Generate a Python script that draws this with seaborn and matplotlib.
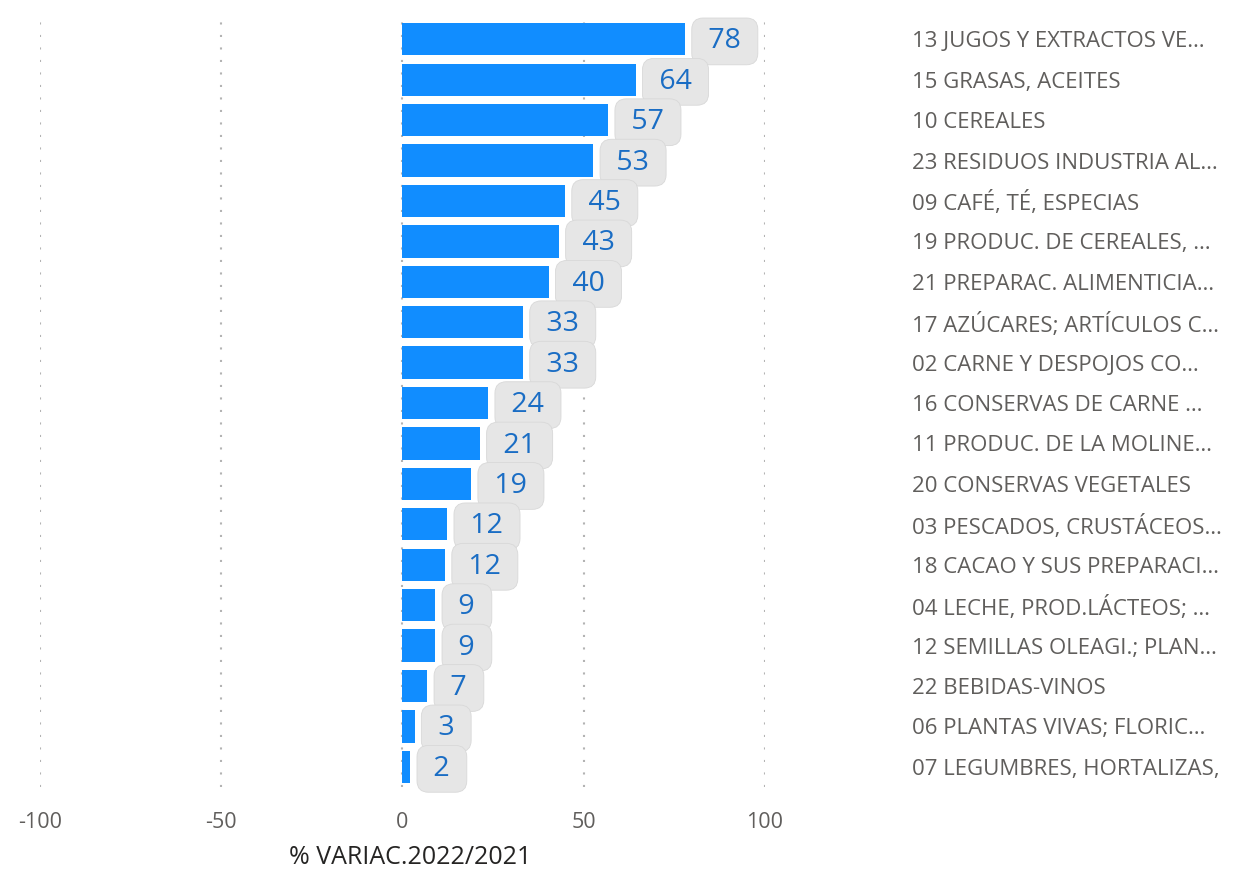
import pandas as pd
import matplotlib.pyplot as plt
import seaborn as sns

categorias = [
    "13 JUGOS Y EXTRACTOS VE…",
    "15 GRASAS, ACEITES",
    "10 CEREALES",
    "23 RESIDUOS INDUSTRIA AL…",
    "09 CAFÉ, TÉ, ESPECIAS",
    "19 PRODUC. DE CEREALES, …",
    "21 PREPARAC. ALIMENTICIA…",
    "17 AZÚCARES; ARTÍCULOS C…",
    "02 CARNE Y DESPOJOS CO…",
    "16 CONSERVAS DE CARNE …",
    "11 PRODUC. DE LA MOLINE…",
    "20 CONSERVAS VEGETALES",
    "03 PESCADOS, CRUSTÁCEOS…",
    "18 CACAO Y SUS PREPARACI…",
    "04 LECHE, PROD.LÁCTEOS; …",
    "12 SEMILLAS OLEAGI.; PLAN…",
    "22 BEBIDAS-VINOS",
    "06 PLANTAS VIVAS; FLORIC…",
    "07 LEGUMBRES, HORTALIZAS,",
]
variacion = [78.0, 64.4, 56.8, 52.7, 44.9, 43.2, 40.4, 33.3, 33.3, 23.7,
             21.4, 19.0, 12.4, 11.8, 9.1, 9.1, 6.9, 3.4, 2.2]
etiquetas = [78, 64, 57, 53, 45, 43, 40, 33, 33, 24, 21, 19, 12, 12, 9, 9, 7, 3, 2]
ticks_x = [-100, -50, 0, 50, 100]

df = pd.DataFrame({"categoria": categorias, "variacion": variacion})

sns.set_style("white")
plt.rcParams["font.family"] = ["Open Sans", "DejaVu Sans"]

fig = plt.figure(figsize=(12.33, 8.69), dpi=100)
ax = fig.add_axes([0.0324, 0.0944, 0.588, 0.8836])

sns.barplot(data=df, x="variacion", y="categoria", orient="h", color="#118dff",
            saturation=1, width=0.8, linewidth=0, ax=ax, zorder=3)

for i, (v, lab) in enumerate(zip(variacion, etiquetas)):
    ax.annotate(f" {lab} ", xy=(v, i), xytext=(11.5, -1.5), textcoords="offset points",
                ha="left", va="center", fontsize=20.5, color="#1a6dc4", zorder=5 + i,
                bbox=dict(boxstyle="round,pad=0.33,rounding_size=0.4",
                          fc="#e6e6e6", ec="#d8d8d8", lw=0.6))

ax.set_xlim(-100, 100)
ax.set_ylim(len(categorias) - 0.5, -0.5)
ax.set_xticks(ticks_x)
ax.set_xticklabels([str(t) for t in ticks_x])
for t in ticks_x:
    ax.axvline(t, color="#b3b3b3", lw=1.5, linestyle=(0, (1, 5)), zorder=1)

ax.yaxis.tick_right()
ax.tick_params(axis="y", length=0, pad=106, labelsize=16, labelcolor="#605e5c")
ax.tick_params(axis="x", length=0, pad=18, labelsize=15.5, labelcolor="#605e5c")
for lbl in ax.get_yticklabels():
    lbl.set_horizontalalignment("left")
ax.set_ylabel("")
ax.set_xlabel("% VARIAC.2022/2021", fontsize=18, color="#252423")
ax.xaxis.set_label_coords(0.51, -0.075, transform=ax.transAxes)
ax.xaxis.label.set_verticalalignment("top")
sns.despine(ax=ax, left=True, bottom=True)

fig.savefig("out.png", dpi=100)
